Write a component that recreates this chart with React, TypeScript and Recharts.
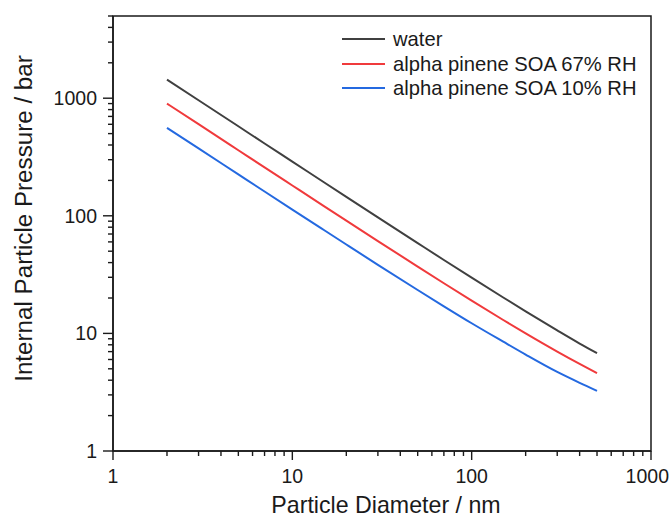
import { Legend, Line, LineChart, ReferenceArea, XAxis, YAxis, Label } from 'recharts';

// values (log-log)
const diameters = [2, 3, 5, 7, 10, 15, 20, 30, 50, 70, 100, 150, 200, 300, 400, 500];
const waterPressure = [1440, 961, 577, 412, 289, 193, 145, 97, 58.6, 42.1, 29.8, 20.2, 15.4, 10.6, 8.2, 6.8];
const soa67Pressure = [900, 601, 361, 258, 181, 121, 91, 61, 37, 26.7, 19, 13, 10, 7, 5.5, 4.6];
const soa10Pressure = [560, 374, 225, 161, 113, 75.7, 57, 38.3, 23.4, 17, 12.2, 8.5, 6.6, 4.7, 3.8, 3.25];

const majorTicks = [1, 10, 100, 1000];
const xTicks = [1, 2, 3, 4, 5, 6, 7, 8, 9, 10, 20, 30, 40, 50, 60, 70, 80, 90, 100, 200, 300, 400, 500, 600, 700, 800, 900, 1000];
const yTicks = [1, 2, 3, 4, 5, 6, 7, 8, 9, 10, 20, 30, 40, 50, 60, 70, 80, 90, 100, 200, 300, 400, 500, 600, 700, 800, 900, 1000, 2000, 3000, 4000, 5000];

const series = [
  { key: 'water', name: 'water', color: '#404040' },
  { key: 'soa67', name: 'alpha pinene SOA 67% RH', color: '#f03a3c' },
  { key: 'soa10', name: 'alpha pinene SOA 10% RH', color: '#2469e0' },
];

const data = diameters.map((d, i) => ({
  d,
  water: waterPressure[i],
  soa67: soa67Pressure[i],
  soa10: soa10Pressure[i],
}));

const FONT = '"Liberation Sans", Arial, sans-serif';
const INK = '#1a1a1a';

const XTick = (props: any) => {
  const { x, y, payload } = props;
  const major = majorTicks.includes(payload.value);
  // last label sits at the chart's right edge, keep it inside the picture
  const atEdge = x + 22 > 670;
  return (
    <g>
      <line x1={x} x2={x} y1={y} y2={y + (major ? 9 : 5)} stroke={INK} strokeWidth={1.4} />
      {major ? (
        <text
          x={atEdge ? 669 : x}
          y={y + 32}
          textAnchor={atEdge ? 'end' : 'middle'}
          fontSize={19.5}
          fill={INK}
          fontFamily={FONT}
        >
          {payload.value}
        </text>
      ) : null}
    </g>
  );
};

const YTick = (props: any) => {
  const { x, y, payload } = props;
  const major = majorTicks.includes(payload.value);
  return (
    <g>
      <line x1={x - (major ? 10 : 5)} x2={x} y1={y} y2={y} stroke={INK} strokeWidth={1.4} />
      {major ? (
        <text x={x - 16} y={y} dy="0.36em" textAnchor="end" fontSize={19.5} fill={INK} fontFamily={FONT}>
          {payload.value}
        </text>
      ) : null}
    </g>
  );
};

const LegendBox = () => (
  <div style={{ fontFamily: FONT, fontSize: 20.2, color: INK }}>
    {series.map((s) => (
      <div key={s.key} style={{ display: 'flex', alignItems: 'center', height: 24.6 }}>
        <div style={{ width: 43, height: 2, background: s.color, marginRight: 8 }} />
        <span style={{ whiteSpace: 'nowrap', lineHeight: '24.6px' }}>{s.name}</span>
      </div>
    ))}
  </div>
);

const App = () => {
  return (
    <div style={{ position: 'absolute', top: 0, left: 0, width: 670, height: 519, background: '#fff' }}>
      <LineChart width={670} height={519} data={data} margin={{ top: 16, right: 19, bottom: 0, left: 0 }}>
        <XAxis
          dataKey="d"
          type="number"
          scale="log"
          domain={[1, 1000]}
          ticks={xTicks}
          interval={0}
          height={68}
          tickSize={0}
          tickMargin={0}
          tickLine={false}
          tick={<XTick />}
          axisLine={{ stroke: INK, strokeWidth: 1.5 }}
        >
          <Label
            content={({ viewBox }: any) => (
              <text
                x={viewBox.x + viewBox.width / 2 + 4}
                y={viewBox.y + viewBox.height - 6}
                textAnchor="middle"
                fontSize={23.2}
                fill={INK}
                fontFamily={FONT}
              >
                Particle Diameter / nm
              </text>
            )}
          />
        </XAxis>
        <YAxis
          type="number"
          scale="log"
          domain={[1, 5000]}
          ticks={yTicks}
          interval={0}
          width={113}
          tickSize={0}
          tickMargin={0}
          tickLine={false}
          tick={<YTick />}
          axisLine={{ stroke: INK, strokeWidth: 1.5 }}
        >
          <Label
            content={({ viewBox }: any) => {
              const cx = viewBox.x + 32;
              const cy = viewBox.y + viewBox.height / 2 - 15;
              return (
                <text
                  x={cx}
                  y={cy}
                  transform={`rotate(-90 ${cx} ${cy})`}
                  textAnchor="middle"
                  fontSize={24.2}
                  fill={INK}
                  fontFamily={FONT}
                >
                  Internal Particle Pressure / bar
                </text>
              );
            }}
          />
        </YAxis>
        <ReferenceArea x1={1} x2={1000} y1={1} y2={5000} fill="none" stroke={INK} strokeWidth={1.5} />
        <Legend
          layout="vertical"
          align="center"
          verticalAlign="middle"
          content={<LegendBox />}
          wrapperStyle={{ top: 27, left: 342, width: 320 }}
        />
        {series.map((s) => (
          <Line
            key={s.key}
            dataKey={s.key}
            name={s.name}
            type="monotone"
            stroke={s.color}
            strokeWidth={2}
            dot={false}
            isAnimationActive={false}
          />
        ))}
      </LineChart>
    </div>
  );
};

export default App;
